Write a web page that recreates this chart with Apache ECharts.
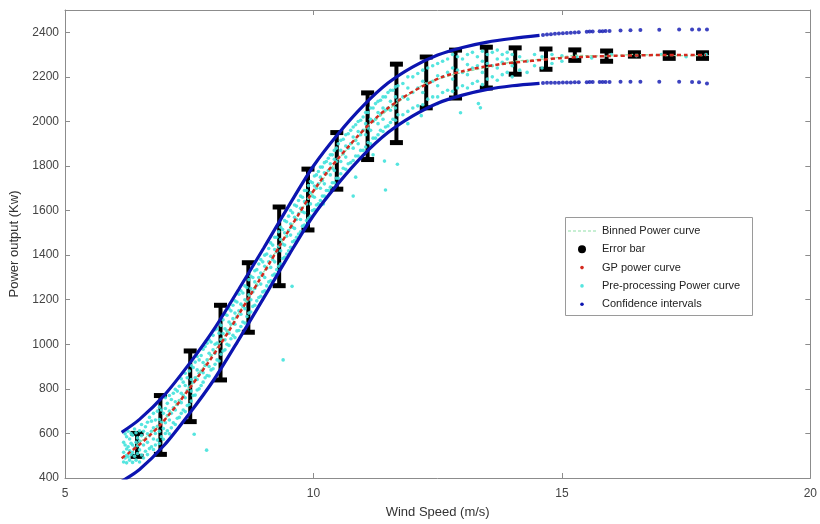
<!DOCTYPE html>
<html>
<head>
<meta charset="utf-8">
<script src="https://cdn.jsdelivr.net/npm/echarts@6.0.0/dist/echarts.min.js"></script>
<style>
  html, body { margin: 0; padding: 0; background: #fff; }
  #chart { width: 820px; height: 524px; }
</style>
</head>
<body>
<div id="chart"></div>
<script>
// binned power curve: bin centres, mean and error bar ends
const binWind = [6.45, 6.92, 7.52, 8.13, 8.69, 9.31, 9.89, 10.47, 11.09, 11.67, 12.27, 12.86, 13.48, 14.06, 14.68, 15.26, 15.90, 16.46, 17.16, 17.83];
const binMean = [549, 638, 812, 1008, 1210, 1440, 1650, 1823, 1979, 2081, 2175, 2213, 2242, 2271, 2280, 2297, 2293, 2301, 2295, 2295];
const binHigh = [600, 770, 970, 1175, 1366, 1616, 1786, 1950, 2128, 2257, 2289, 2320, 2333, 2330, 2325, 2321, 2316, 2308, 2308, 2308];
const binLow  = [497, 506, 653, 840, 1054, 1263, 1513, 1696, 1829, 1905, 2061, 2105, 2150, 2212, 2234, 2274, 2270, 2293, 2283, 2283];

// GP power curve
const gpWind  = [6.14, 6.3, 6.5, 6.7, 6.9, 7.1, 7.3, 7.5, 7.7, 7.9, 8.1, 8.3, 8.5, 8.7, 8.9, 9.1, 9.3, 9.5, 9.7, 9.9, 10.1, 10.3, 10.5, 10.7, 10.9, 11.1, 11.3, 11.5, 11.7, 11.9, 12.2, 12.6, 13.0, 13.4, 13.8, 14.2, 14.6, 15.0, 15.5, 16.0, 16.5, 17.0, 17.5, 17.9];
const gpPower = [489, 515, 550, 590, 634, 686, 741, 800, 861, 923, 990, 1060, 1135, 1209, 1283, 1358, 1434, 1510, 1583, 1655, 1720, 1780, 1835, 1886, 1936, 1982, 2024, 2060, 2092, 2121, 2158, 2200, 2225, 2244, 2258, 2268, 2276, 2285, 2290, 2294, 2296, 2298, 2298, 2298];

// confidence intervals (dense part drawn as a line, sparse tail as dots)
const ciWind  = [6.14, 6.5, 7.0, 7.5, 8.0, 8.5, 9.0, 9.5, 10.0, 10.5, 11.0, 11.5, 12.0, 12.5, 13.0, 13.5, 14.0, 14.55];
const ciUpper = [605, 663, 772, 912, 1068, 1248, 1432, 1620, 1800, 1945, 2070, 2172, 2245, 2298, 2332, 2356, 2372, 2386];
const ciLower = [385, 438, 548, 688, 842, 1022, 1208, 1398, 1578, 1722, 1848, 1950, 2025, 2082, 2118, 2144, 2160, 2171];
const ciTailWind  = [14.62, 14.7, 14.78, 14.86, 14.94, 15.02, 15.1, 15.18, 15.26, 15.34, 15.5, 15.56, 15.62, 15.76, 15.82, 15.88, 15.96, 16.18, 16.38, 16.58, 16.96, 17.36, 17.62, 17.76, 17.92];
const ciTailUpper = [2388, 2390, 2391, 2393, 2394, 2396, 2397, 2398, 2399, 2400, 2402, 2403, 2403, 2405, 2405, 2406, 2406, 2408, 2409, 2410, 2411, 2412, 2413, 2413, 2412];
const ciTailLower = [2172, 2173, 2173, 2174, 2174, 2175, 2175, 2175, 2176, 2176, 2176, 2177, 2177, 2177, 2177, 2177, 2177, 2178, 2178, 2178, 2178, 2178, 2177, 2176, 2170];

// pre-processing power curve: each row is [wind speed, power, power, ...]
const prepRows = [
  [6.18,472,515,560],[6.21,490,548,598],[6.24,468,502,530,585],[6.27,495,540,610],[6.30,480,522,575],
  [6.33,505,556,600],[6.36,470,515,548,592],[6.40,498,535,620],[6.43,480,560,603],[6.46,510,545,580],
  [6.50,472,526,566,612],[6.54,503,590,640],[6.58,490,548,610],[6.62,520,575,630],[6.66,505,560,598,650],
  [6.70,532,590,672],[6.74,540,610,655],[6.78,528,575,625,690],[6.82,548,600,660],[6.86,570,632,700],
  [6.90,555,610,662,718],[6.94,585,650,705],[6.98,574,622,690],[7.02,600,648,712,760],[7.06,612,680,735],
  [7.10,598,660,700,770],[7.14,625,690,752],[7.18,648,715,780],[7.22,640,705,742,798],[7.26,668,730,790],
  [7.30,672,748,812],[7.34,690,738,780,845],[7.38,705,770,830],[7.42,698,760,815,870],[7.46,725,792,850],
  [7.50,730,808,880],[7.54,745,790,842,905],[7.58,770,830,896],[7.62,772,850,920],[7.66,795,842,885,945],
  [7.70,800,870,930],[7.74,815,880,950],[7.78,830,872,918,978],[7.82,850,905,990],[7.86,860,930,1005],
  [7.90,858,900,960,1020],[7.94,885,950,1010],[7.98,890,975,1040],[8.02,910,960,1000,1065],[8.06,930,1005,1070],
  [8.10,925,990,1050,1095],[8.14,955,1022,1085],[8.18,970,1048,1110],[8.22,975,1020,1070,1135],[8.26,1000,1060,1130],
  [8.30,995,1050,1100,1160],[8.34,1025,1090,1150],[8.38,1040,1115,1175],[8.42,1030,1090,1140,1195],[8.46,1060,1125,1190],
  [8.50,1062,1150,1225],[8.54,1080,1135,1180,1240],[8.58,1100,1170,1230],[8.62,1095,1160,1200,1262],[8.66,1125,1195,1255],
  [8.70,1140,1222,1290],[8.74,1145,1200,1250,1305],[8.78,1170,1235,1300],[8.82,1175,1250,1280,1330],[8.86,1195,1265,1335],
  [8.90,1210,1300,1360],[8.94,1215,1270,1320,1380],[8.98,1235,1310,1370],[9.02,1240,1300,1350,1400],[9.06,1262,1340,1405],
  [9.10,1280,1370,1430],[9.14,1285,1345,1395,1455],[9.18,1310,1380,1445],[9.22,1315,1370,1425,1480],[9.26,1335,1415,1480],
  [9.30,1350,1440,1505],[9.34,1360,1420,1470,1525],[9.38,1385,1450,1515],[9.42,1390,1445,1500,1555],[9.46,1405,1485,1550],
  [9.50,1420,1510,1575],[9.54,1435,1490,1540,1600],[9.58,1460,1525,1590],[9.62,1465,1520,1570,1625],[9.66,1480,1560,1620],
  [9.70,1495,1585,1645],[9.74,1505,1560,1610,1665],[9.78,1530,1595,1660],[9.82,1535,1590,1640,1690],[9.86,1555,1630,1690],
  [9.90,1565,1655,1712],[9.94,1575,1630,1680,1730],[9.98,1600,1665,1725],[10.02,1605,1660,1710,1755],[10.06,1625,1700,1760],
  [10.10,1630,1720,1775],[10.14,1645,1700,1750,1795],[10.18,1665,1735,1795],[10.22,1665,1720,1770,1815],[10.26,1690,1765,1820],
  [10.30,1690,1780,1835],[10.34,1705,1760,1810,1850],[10.38,1725,1790,1850],[10.42,1725,1780,1830,1870],[10.46,1745,1820,1880],
  [10.50,1745,1835,1900],[10.55,1765,1820,1870,1915],[10.60,1790,1855,1920],[10.65,1785,1840,1890,1940],[10.70,1810,1880,1945],
  [10.75,1815,1900,1960],[10.80,1825,1880,1930,1975],[10.85,1845,1915,1985],[10.90,1845,1900,1955,2000],[10.95,1870,1940,2005],
  [11.00,1870,1960,2020],[11.05,1885,1940,1990,2040],[11.10,1905,1970,2040],[11.15,1900,1960,2010,2060],[11.20,1925,2000,2060],
  [11.25,1925,2010,2080],[11.30,1940,1990,2040,2090],[11.35,1960,2030,2095],[11.40,1955,2010,2060,2110],[11.45,1975,2050,2110],
  [11.50,1980,2060,2130],[11.55,1995,2050,2090,2140],[11.60,2010,2075,2140],[11.65,2005,2060,2110,2155],[11.70,2030,2095,2160],
  [11.80,2030,2110,2170],[11.90,2045,2100,2150,2200],[12.00,2060,2130,2200],[12.10,2070,2150,2215],[12.20,2075,2130,2180,2230],
  [12.30,2100,2170,2240],[12.40,2110,2180,2250],[12.50,2110,2160,2205,2260],[12.60,2130,2200,2270],[12.70,2140,2220,2280],
  [12.80,2135,2190,2240,2300],[12.90,2150,2230,2290],[13.00,2160,2220,2280],[13.10,2150,2210,2255,2300],[13.20,2170,2240,2310],
  [13.30,2180,2250,2290],[13.40,2165,2220,2270,2315],[13.50,2190,2260,2300],[13.60,2200,2250,2310],[13.70,2185,2240,2280,2320],
  [13.80,2210,2265,2300],[13.90,2220,2280,2310],[14.00,2200,2250,2300],[14.15,2230,2290],[14.30,2220,2270],
  [14.45,2250,2300],[14.60,2240,2290],[14.80,2260,2300],[15.00,2270,2295],[15.30,2290],[15.60,2285],
  [16.00,2300],[16.50,2295],[17.00,2300],[17.50,2290],[17.90,2300]
];
const prepOutliers = [[7.6,596],[7.85,525],[9.39,930],[9.57,1260],[10.8,1665],[10.85,1750],[11.45,1692],[11.43,1822],
  [11.69,1808],[12.17,2026],[12.96,2039],[13.36,2061],[13.32,2080],[11.2,1850],[11.9,1990],[12.5,2080],[10.2,1630]];

const xTicks = [5, 10, 15, 20];

const prepData = prepRows.flatMap(r => r.slice(1).map(p => [r[0], p])).concat(prepOutliers);
const pair = (xs, ys) => xs.map((x, i) => [x, ys[i]]);

const font = 'Liberation Sans, Arial, sans-serif';
// legend icons drawn inside a 30x8 box
const dotIcon = 'path://M0,0L0,0M30,8L30,8M13.2,4a1.8,1.8 0 1,0 3.6,0a1.8,1.8 0 1,0 -3.6,0Z';
const dashIcon = 'path://M0,0L0,0M30,8L30,8M1,3.4h3v1.2h-3zM6,3.4h3v1.2h-3zM11,3.4h3v1.2h-3zM16,3.4h3v1.2h-3zM21,3.4h3v1.2h-3zM26,3.4h3v1.2h-3z';
const chart = echarts.init(document.getElementById('chart'));

const hiddenAxis = {
  axisLabel: { show: false },
  axisLine: { show: true, lineStyle: { color: '#8c8c8c' } },
  axisTick: { show: true, inside: true, length: 5, lineStyle: { color: '#8c8c8c' } },
  splitLine: { show: false }
};

chart.setOption({
  animation: false,
  grid: { left: 65, right: 7, top: 10, bottom: 42, containLabel: false },
  graphic: [{
    type: 'rect', left: 565, top: 217, z: 20,
    shape: { width: 187, height: 98 },
    style: { fill: '#fff', stroke: '#9a9a9a', lineWidth: 1 }
  }],
  legend: {
    orient: 'vertical', left: 567, top: 224.5, padding: 0, z: 30,
    itemWidth: 30, itemHeight: 8, itemGap: 5.3,
    textStyle: { fontFamily: font, fontSize: 11, color: '#222', lineHeight: 13 },
    data: [
      { name: 'Binned Power curve', icon: dashIcon, itemStyle: { color: '#8fe0a8', borderWidth: 0 } },
      { name: 'Error bar', icon: 'circle' },
      { name: 'GP power curve', icon: dotIcon },
      { name: 'Pre-processing Power curve', icon: dotIcon },
      { name: 'Confidence intervals', icon: dotIcon }
    ]
  },
  xAxis: [{
    type: 'value', min: 5, max: 20, interval: 5,
    name: 'Wind Speed (m/s)', nameLocation: 'middle', nameGap: 28,
    nameTextStyle: { fontFamily: font, fontSize: 13, color: '#333' },
    axisLine: { show: true, lineStyle: { color: '#8c8c8c' } },
    axisTick: { show: true, inside: true, length: 5, lineStyle: { color: '#8c8c8c' } },
    axisLabel: { fontFamily: font, fontSize: 12, color: '#444', margin: 10,
      formatter: v => xTicks.includes(v) ? String(v) : '' },
    splitLine: { show: false }
  }, Object.assign({ type: 'value', min: 5, max: 20, interval: 5, position: 'top' }, hiddenAxis)],
  yAxis: [{
    type: 'value', min: 400, max: 2500, interval: 200,
    name: 'Power output (Kw)', nameLocation: 'middle', nameGap: 33,
    nameTextStyle: { fontFamily: font, fontSize: 13, color: '#333' },
    axisLine: { show: true, lineStyle: { color: '#8c8c8c' } },
    axisTick: { show: true, inside: true, length: 5, lineStyle: { color: '#8c8c8c' } },
    axisLabel: { fontFamily: font, fontSize: 12, color: '#444', margin: 6, showMaxLabel: false,
      formatter: v => String(v) },
    splitLine: { show: false }
  }, Object.assign({ type: 'value', min: 400, max: 2500, interval: 200, position: 'right' }, hiddenAxis)],
  series: [
    {
      name: 'Error bar', type: 'custom', z: 2,
      itemStyle: { color: '#000' },
      encode: { x: 0, y: [1, 2] },
      data: binWind.map((x, i) => [x, binLow[i], binHigh[i]]),
      renderItem: (params, api) => {
        const top = api.coord([api.value(0), api.value(2)]);
        const bot = api.coord([api.value(0), api.value(1)]);
        const w = 6.5;
        return {
          type: 'group',
          children: [
            { type: 'line', shape: { x1: top[0], y1: top[1], x2: bot[0], y2: bot[1] },
              style: { stroke: '#000', lineWidth: 4 } },
            { type: 'rect', shape: { x: top[0] - w, y: top[1] - 2.5, width: 2 * w, height: 5 },
              style: { fill: '#000' } },
            { type: 'rect', shape: { x: bot[0] - w, y: bot[1] - 2.5, width: 2 * w, height: 5 },
              style: { fill: '#000' } }
          ]
        };
      }
    },
    {
      name: 'Pre-processing Power curve', type: 'scatter', z: 3,
      symbolSize: 3.6, itemStyle: { color: '#42e2dc', opacity: 0.9 },
      data: prepData
    },
    {
      name: 'Binned Power curve', type: 'line', z: 4, symbol: 'none',
      lineStyle: { color: '#8fe0a8', width: 1.3, type: [3, 2] },
      itemStyle: { color: '#8fe0a8' },
      data: pair(binWind, binMean)
    },
    {
      name: 'GP power curve', type: 'line', z: 5, symbol: 'none', smooth: 0.3,
      lineStyle: { color: '#d42a1f', width: 2.5, type: [4, 3] },
      itemStyle: { color: '#d42a1f' },
      data: pair(gpWind, gpPower)
    },
    {
      name: 'Confidence intervals', type: 'line', z: 6, symbol: 'none', smooth: 0.3,
      lineStyle: { color: '#0c14b0', width: 3.2 }, itemStyle: { color: '#0c14b0' },
      data: pair(ciWind, ciUpper)
    },
    {
      name: 'Confidence intervals', type: 'line', z: 6, symbol: 'none', smooth: 0.3,
      lineStyle: { color: '#0c14b0', width: 3.2 }, itemStyle: { color: '#0c14b0' },
      data: pair(ciWind, ciLower)
    },
    {
      name: 'Confidence intervals', type: 'scatter', z: 6, symbolSize: 4,
      itemStyle: { color: '#0c14b0' },
      data: pair(ciTailWind, ciTailUpper).concat(pair(ciTailWind, ciTailLower))
    }
  ]
});
</script>
</body>
</html>
